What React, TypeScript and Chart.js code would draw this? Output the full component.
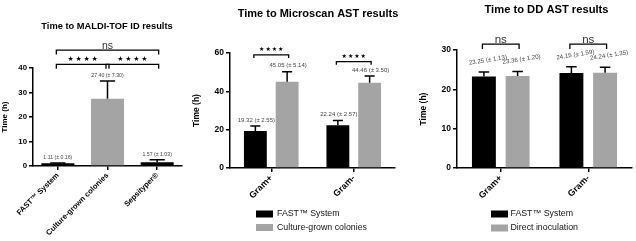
import React, { useEffect, useRef } from "react";
import { Chart, registerables } from "chart.js";

Chart.register(...registerables);

// ---------------- data ----------------
const yAxisTitle = "Time (h)";

// Panel 1
const maldiTitle = "Time to MALDI-TOF ID results";
const maldiCategories = ["FAST™ System", "Culture-grown colonies", "Sepsityper®"];
const maldiMeans = [1.11, 27.4, 1.57];
const maldiSD = [0.16, 7.3, 1.03];
const maldiTicks = [0, 10, 20, 30, 40];
const maldiPairs = [[0, 1], [1, 2], [0, 2]];
const maldiSignificance = ["****", "****", "ns"];

// Panel 2
const microscanTitle = "Time to Microscan AST results";
const gramCategories = ["Gram+", "Gram-"];
const microscanSeries = ["FAST™ System", "Culture-grown colonies"];
const microscanFast = [19.32, 22.24];
const microscanFastSD = [2.55, 2.57];
const microscanCulture = [45.05, 44.46];
const microscanCultureSD = [5.14, 3.5];
const microscanTicks = [0, 20, 40, 60];
const microscanSignificance = ["****", "****"];

// Panel 3
const ddTitle = "Time to DD AST results";
const ddSeries = ["FAST™ System", "Direct inoculation"];
const ddFast = [23.25, 24.15];
const ddFastSD = [1.13, 1.59];
const ddDirect = [23.36, 24.24];
const ddDirectSD = [1.2, 1.35];
const ddTicks = [0, 10, 20, 30];
const ddSignificance = ["ns", "ns"];

// ---------------- styles ----------------
const FAMILY = "'Liberation Sans', Arial, Helvetica, sans-serif";
const BLACK = "#000000";
const GREY = "#a4a4a4";

type Ref = { ds: number; i: number };
interface Bracket { a: Ref; b: Ref; text: string; y: number; leg: number }
interface DS { label: string; data: number[]; sd: number[]; color: string | string[] }
interface Spec {
  left: number; width: number; height: number;
  area: { left: number; right: number; top: number; bottom: number };
  labels: string[];
  datasets: DS[];
  yTicks: number[];
  tickFont: number; xFont: number; yTitleFont: number; yTitlePad: number;
  catPct: number; barPct: number;
  title: { text: string; x: number; y: number; size: number };
  value: { size: number; dx: number; gap: number; rotate: number };
  capRatio: number;
  brackets: Bracket[];
  starSize: number; starPitch: number; starGap: number;
  nsSize: number; nsGap: number;
  legend?: { boxX: number; textX: number; rows: number[]; font: number };
}

function font(size: number, bold = false, family = FAMILY) {
  return `${bold ? "bold " : ""}${size}px ${family}`;
}

function makePlugin(spec: Spec) {
  return {
    id: "annot",
    afterDatasetsDraw(chart: any) {
      const ctx = chart.ctx as CanvasRenderingContext2D;
      const ys = chart.scales.y;
      ctx.save();
      ctx.strokeStyle = BLACK;
      ctx.lineWidth = 1.5;
      spec.datasets.forEach((ds, di) => {
        const meta = chart.getDatasetMeta(di);
        ds.data.forEach((v, i) => {
          const el: any = meta.data[i];
          const top = ys.getPixelForValue(v);
          const ye = ys.getPixelForValue(v + ds.sd[i]);
          const cap = el.width * spec.capRatio;
          ctx.beginPath();
          ctx.moveTo(el.x, top);
          ctx.lineTo(el.x, ye);
          ctx.moveTo(el.x - cap / 2, ye);
          ctx.lineTo(el.x + cap / 2, ye);
          ctx.stroke();
        });
      });
      ctx.restore();
    },
    afterDraw(chart: any) {
      const ctx = chart.ctx as CanvasRenderingContext2D;
      const ys = chart.scales.y;
      ctx.save();
      // value labels
      ctx.fillStyle = "#444";
      ctx.font = font(spec.value.size);
      ctx.textAlign = "center";
      ctx.textBaseline = "middle";
      spec.datasets.forEach((ds, di) => {
        const meta = chart.getDatasetMeta(di);
        ds.data.forEach((v, i) => {
          const el: any = meta.data[i];
          const ye = ys.getPixelForValue(v + ds.sd[i]);
          const txt = `${v.toFixed(2)} (± ${ds.sd[i].toFixed(2)})`;
          ctx.save();
          ctx.translate(el.x + spec.value.dx, ye - spec.value.gap);
          ctx.rotate((spec.value.rotate * Math.PI) / 180);
          ctx.fillText(txt, 0, 0);
          ctx.restore();
        });
      });
      // brackets
      const px = (r: Ref) => (chart.getDatasetMeta(r.ds).data[r.i] as any).x;
      ctx.strokeStyle = BLACK;
      ctx.lineWidth = 1.3;
      spec.brackets.forEach((b) => {
        const xa = px(b.a) - 1.5;
        const xb = px(b.b) + 1.5;
        const y = ys.getPixelForValue(b.y);
        ctx.beginPath();
        ctx.moveTo(xa, y + b.leg);
        ctx.lineTo(xa, y);
        ctx.lineTo(xb, y);
        ctx.lineTo(xb, y + b.leg);
        ctx.stroke();
        const cx = (xa + xb) / 2;
        if (b.text.startsWith("*")) {
          ctx.fillStyle = BLACK;
          ctx.font = font(spec.starSize, false, "'DejaVu Sans', sans-serif");
          ctx.textBaseline = "middle";
          const n = b.text.length;
          for (let k = 0; k < n; k++) {
            ctx.fillText("★", cx + (k - (n - 1) / 2) * spec.starPitch, y - spec.starGap);
          }
        } else {
          ctx.fillStyle = "#333";
          ctx.font = font(spec.nsSize);
          ctx.textBaseline = "alphabetic";
          ctx.fillText(b.text, cx, y - spec.nsGap);
        }
      });
      // title
      ctx.fillStyle = BLACK;
      ctx.font = font(spec.title.size, true);
      ctx.textAlign = "center";
      ctx.textBaseline = "middle";
      ctx.fillText(spec.title.text, spec.title.x, spec.title.y);
      // legend
      if (spec.legend) {
        const lg = spec.legend;
        spec.datasets.forEach((ds, di) => {
          const y = lg.rows[di];
          ctx.fillStyle = Array.isArray(ds.color) ? ds.color[0] : ds.color;
          ctx.fillRect(lg.boxX, y - 3.5, 17, 7);
          ctx.fillStyle = "#111";
          ctx.font = font(lg.font);
          ctx.textAlign = "left";
          ctx.textBaseline = "middle";
          ctx.fillText(ds.label, lg.textX, y);
        });
      }
      ctx.restore();
    },
  };
}

function buildConfig(spec: Spec): any {
  const a = spec.area;
  const axisGrid = {
    display: true,
    drawOnChartArea: false,
    drawTicks: true,
    tickLength: 4,
    offset: false,
    color: BLACK,
    lineWidth: 1.5,
  };
  const border = { display: true, color: BLACK, width: 1.5 };
  return {
    type: "bar",
    data: {
      labels: spec.labels,
      datasets: spec.datasets.map((d) => ({
        label: d.label,
        data: d.data,
        backgroundColor: d.color,
        borderWidth: 0,
        categoryPercentage: spec.catPct,
        barPercentage: spec.barPct,
      })),
    },
    options: {
      responsive: false,
      maintainAspectRatio: false,
      animation: false,
      events: [],
      layout: { padding: { top: a.top, left: 0, right: spec.width - a.right, bottom: 0 } },
      plugins: { legend: { display: false }, tooltip: { enabled: false }, title: { display: false } },
      scales: {
        x: {
          type: "category",
          offset: true,
          grid: axisGrid,
          border,
          ticks: {
            minRotation: 45,
            maxRotation: 45,
            autoSkip: false,
            color: BLACK,
            padding: 1,
            font: { family: FAMILY, size: spec.xFont, weight: "bold" },
          },
          afterFit: (s: any) => {
            s.height = spec.height - a.bottom;
          },
        },
        y: {
          min: spec.yTicks[0],
          max: spec.yTicks[spec.yTicks.length - 1],
          grid: axisGrid,
          border,
          ticks: {
            color: BLACK,
            padding: 2,
            font: { family: FAMILY, size: spec.tickFont, weight: "bold" },
          },
          afterBuildTicks: (s: any) => {
            s.ticks = spec.yTicks.map((v) => ({ value: v }));
          },
          afterFit: (s: any) => {
            s.width = a.left;
          },
          title: {
            display: true,
            text: yAxisTitle,
            color: BLACK,
            font: { family: FAMILY, size: spec.yTitleFont, weight: "bold" },
            padding: { top: spec.yTitlePad, bottom: 0 },
          },
        },
      },
    },
    plugins: [makePlugin(spec)],
  };
}

const maldiSpec: Spec = {
  left: 0, width: 190, height: 241,
  area: { left: 33, right: 182, top: 68, bottom: 166 },
  labels: maldiCategories,
  datasets: [{ label: "Time", data: maldiMeans, sd: maldiSD, color: [BLACK, GREY, BLACK] }],
  yTicks: maldiTicks,
  tickFont: 7.8, xFont: 7.6, yTitleFont: 8, yTitlePad: 0.2,
  catPct: 1, barPct: 0.665,
  title: { text: maldiTitle, x: 107, y: 26, size: 9.3 },
  value: { size: 5.2, dx: 0, gap: 5, rotate: 0 },
  capRatio: 0.46,
  brackets: [
    { a: { ds: 0, i: maldiPairs[0][0] }, b: { ds: 0, i: maldiPairs[0][1] }, text: maldiSignificance[0], y: 41.5, leg: 4.5 },
    { a: { ds: 0, i: maldiPairs[1][0] }, b: { ds: 0, i: maldiPairs[1][1] }, text: maldiSignificance[1], y: 41.5, leg: 4.5 },
    { a: { ds: 0, i: maldiPairs[2][0] }, b: { ds: 0, i: maldiPairs[2][1] }, text: maldiSignificance[2], y: 47.3, leg: 4.5 },
  ],
  starSize: 7, starPitch: 8, starGap: 5,
  nsSize: 10.5, nsGap: 1.5,
};

const microscanSpec: Spec = {
  left: 190, width: 226, height: 241,
  area: { left: 40, right: 205, top: 53, bottom: 168 },
  labels: gramCategories,
  datasets: [
    { label: microscanSeries[0], data: microscanFast, sd: microscanFastSD, color: BLACK },
    { label: microscanSeries[1], data: microscanCulture, sd: microscanCultureSD, color: GREY },
  ],
  yTicks: microscanTicks,
  tickFont: 8.5, xFont: 9, yTitleFont: 8.5, yTitlePad: 1.2,
  catPct: 0.77, barPct: 0.72,
  title: { text: microscanTitle, x: 128, y: 13.7, size: 11 },
  value: { size: 6, dx: 1, gap: 6, rotate: 0 },
  capRatio: 0.44,
  brackets: [
    { a: { ds: 0, i: 0 }, b: { ds: 1, i: 0 }, text: microscanSignificance[0], y: 59, leg: 3 },
    { a: { ds: 0, i: 1 }, b: { ds: 1, i: 1 }, text: microscanSignificance[1], y: 55.5, leg: 3 },
  ],
  starSize: 6, starPitch: 6.3, starGap: 5,
  nsSize: 11, nsGap: 1.5,
  legend: { boxX: 66, textX: 87, rows: [214, 227.5], font: 8.8 },
};

const ddSpec: Spec = {
  left: 416, width: 220, height: 241,
  area: { left: 41, right: 216, top: 50, bottom: 168 },
  labels: gramCategories,
  datasets: [
    { label: ddSeries[0], data: ddFast, sd: ddFastSD, color: BLACK },
    { label: ddSeries[1], data: ddDirect, sd: ddDirectSD, color: GREY },
  ],
  yTicks: ddTicks,
  tickFont: 8.5, xFont: 9, yTitleFont: 8.5, yTitlePad: 2.7,
  catPct: 0.77, barPct: 0.71,
  title: { text: ddTitle, x: 130.5, y: 10, size: 11.2 },
  value: { size: 6.2, dx: 4, gap: 12, rotate: -9 },
  capRatio: 0.44,
  brackets: [
    { a: { ds: 0, i: 0 }, b: { ds: 1, i: 0 }, text: ddSignificance[0], y: 31.5, leg: 5 },
    { a: { ds: 0, i: 1 }, b: { ds: 1, i: 1 }, text: ddSignificance[1], y: 31.5, leg: 5 },
  ],
  starSize: 6, starPitch: 6.3, starGap: 5,
  nsSize: 11.5, nsGap: 1,
  legend: { boxX: 75, textX: 94.5, rows: [214, 228], font: 8.8 },
};

function Panel({ spec }: { spec: Spec }) {
  const ref = useRef<HTMLCanvasElement>(null);
  useEffect(() => {
    const chart = new Chart(ref.current as HTMLCanvasElement, buildConfig(spec));
    return () => chart.destroy();
  }, [spec]);
  return (
    <canvas
      ref={ref}
      width={spec.width}
      height={spec.height}
      style={{ position: "absolute", left: spec.left, top: 0, width: spec.width, height: spec.height }}
    />
  );
}

export default function App() {
  return (
    <div
      style={{
        position: "absolute",
        left: 0,
        top: 0,
        width: 636,
        height: 241,
        background: "#ffffff",
        overflow: "hidden",
      }}
    >
      <Panel spec={maldiSpec} />
      <Panel spec={microscanSpec} />
      <Panel spec={ddSpec} />
    </div>
  );
}
